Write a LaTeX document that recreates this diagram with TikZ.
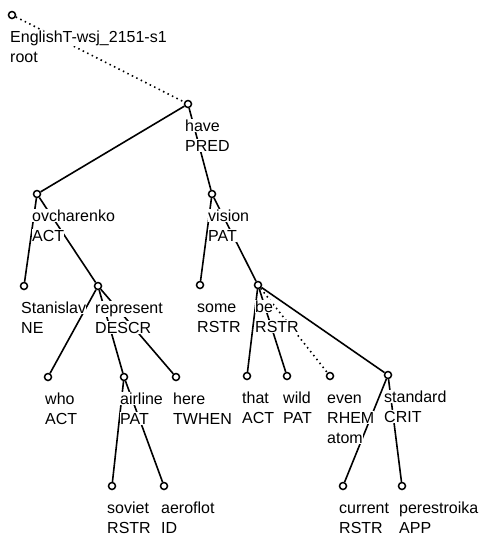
\documentclass[tikz,border=0pt]{standalone}
\usepackage{fontspec}
\setmainfont{Liberation Sans}
\usetikzlibrary{calc}
\setlength{\fboxsep}{0pt}
% white box behind each label line, so that edges break there
\newcommand{\msk}[1]{\colorbox{white}{\rule[-1pt]{0pt}{13pt}#1}}

\begin{document}
\begin{tikzpicture}[
  x=1pt, y=-1pt,
  dot/.style={circle, draw, fill=white, line width=1.5pt, inner sep=0pt,
    minimum size=7pt},
  edge/.style={line width=1.6pt},
  weak/.style={line width=1.6pt, dash pattern=on 1.5pt off 3.5pt},
  lab/.style={anchor=north west, inner sep=0pt, align=left,
    font=\fontsize{16}{20}\selectfont}
]
\useasboundingbox (0,0) rectangle (482,536);

% tree nodes
\node[dot] (root)     at (12,15)   {};
\node[dot] (have)     at (188,104) {};
\node[dot] (ovch)     at (37,194)  {};
\node[dot] (vision)   at (212,194) {};
\node[dot] (stan)     at (24,286)  {};
\node[dot] (repr)     at (98,286)  {};
\node[dot] (some)     at (200,285) {};
\node[dot] (be)       at (258,285) {};
\node[dot] (who)      at (48,377)  {};
\node[dot] (airline)  at (124,377) {};
\node[dot] (here)     at (176,377) {};
\node[dot] (that)     at (247,376) {};
\node[dot] (wild)     at (287,376) {};
\node[dot] (even)     at (330,376) {};
\node[dot] (standard) at (388,375) {};
\node[dot] (soviet)   at (112,486) {};
\node[dot] (aeroflot) at (164,486) {};
\node[dot] (current)  at (343,486) {};
\node[dot] (perest)   at (402,486) {};

% edges
\draw[weak] (root) -- (have);
\draw[edge] (have) -- (ovch);
\draw[edge] (have) -- (vision);
\draw[edge] (ovch) -- (stan);
\draw[edge] (ovch) -- (repr);
\draw[edge] (vision) -- (some);
\draw[edge] (vision) -- (be);
\draw[edge] (repr) -- (who);
\draw[edge] (repr) -- (airline);
\draw[edge] (repr) -- (here);
\draw[edge] (be) -- (that);
\draw[edge] (be) -- (wild);
\draw[weak] (be) -- (even);
\draw[edge] (be) -- (standard);
\draw[edge] (airline) -- (soviet);
\draw[edge] (airline) -- (aeroflot);
\draw[edge] (standard) -- (current);
\draw[edge] (standard) -- (perest);

% labels
\node[lab] (root-l)     at ($(root)+(-2,15)$)     {\msk{EnglishT-wsj\_2151-s1}\\\msk{root}};
\node[lab] (have-l)     at ($(have)+(-3,15)$)     {\msk{have}\\\msk{PRED}};
\node[lab] (ovch-l)     at ($(ovch)+(-5,15)$)     {\msk{ovcharenko}\\\msk{ACT}};
\node[lab] (vision-l)   at ($(vision)+(-4,15)$)   {\msk{vision}\\\msk{PAT}};
\node[lab] (stan-l)     at ($(stan)+(-3,15)$)     {\msk{Stanislav}\\\msk{NE}};
\node[lab] (repr-l)     at ($(repr)+(-3,15)$)     {\msk{represent}\\\msk{DESCR}};
\node[lab] (some-l)     at ($(some)+(-3,15)$)     {\msk{some}\\\msk{RSTR}};
\node[lab] (be-l)       at ($(be)+(-3,15)$)       {\msk{be}\\\msk{RSTR}};
\node[lab] (who-l)      at ($(who)+(-3,15)$)      {\msk{who}\\\msk{ACT}};
\node[lab] (airline-l)  at ($(airline)+(-4,15)$)  {\msk{airline}\\\msk{PAT}};
\node[lab] (here-l)     at ($(here)+(-3,15)$)     {\msk{here}\\\msk{TWHEN}};
\node[lab] (that-l)     at ($(that)+(-5,15)$)     {\msk{that}\\\msk{ACT}};
\node[lab] (wild-l)     at ($(wild)+(-4,15)$)     {\msk{wild}\\\msk{PAT}};
\node[lab] (even-l)     at ($(even)+(-3,15)$)     {\msk{even}\\\msk{RHEM}\\\msk{atom}};
\node[lab] (standard-l) at ($(standard)+(-4,15)$) {\msk{standard}\\\msk{CRIT}};
\node[lab] (soviet-l)   at ($(soviet)+(-5,15)$)   {\msk{soviet}\\\msk{RSTR}};
\node[lab] (aeroflot-l) at ($(aeroflot)+(-3,15)$) {\msk{aeroflot}\\\msk{ID}};
\node[lab] (current-l)  at ($(current)+(-4,15)$)  {\msk{current}\\\msk{RSTR}};
\node[lab] (perest-l)   at ($(perest)+(-3,15)$)   {\msk{perestroika}\\\msk{APP}};
\end{tikzpicture}
\end{document}
